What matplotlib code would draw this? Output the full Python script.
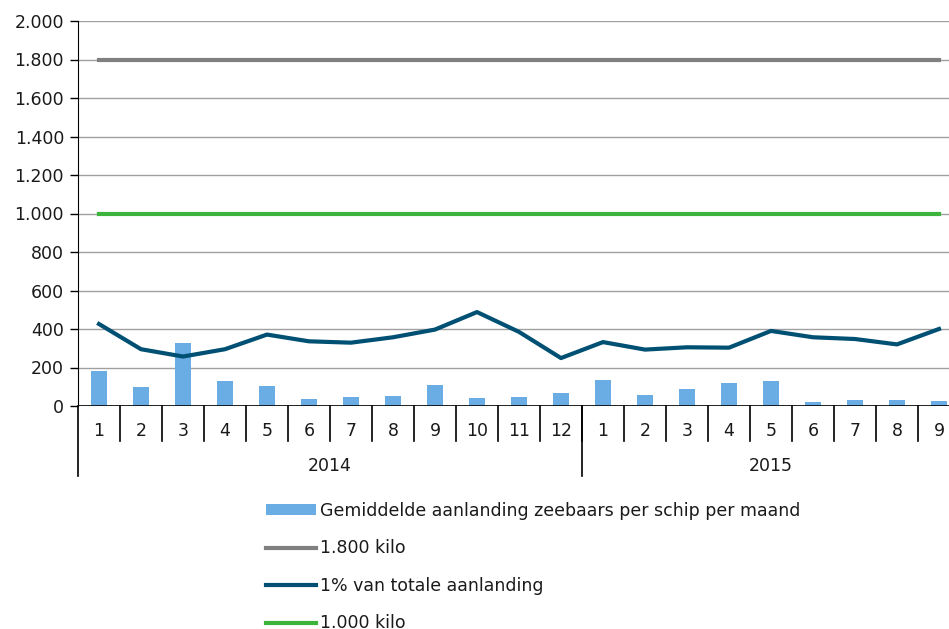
import matplotlib.pyplot as plt
from matplotlib.ticker import FuncFormatter

# Maanden (2014: 1-12, 2015: 1-9)
months = [str(m) for m in range(1, 13)] + [str(m) for m in range(1, 10)]
years = ['2014', '2015']
year_counts = [12, 9]

# Gemiddelde aanlanding zeebaars per schip per maand
landing = [184, 101, 326, 130, 104, 36, 47, 50, 111, 40, 45, 70,
           135, 56, 90, 121, 132, 19, 31, 30, 26]
# 1% van totale aanlanding
one_pct = [426, 295, 257, 295, 371, 336, 329, 357, 397, 488, 385, 249,
           332, 293, 305, 303, 390, 357, 348, 320, 400]
limit_1800 = [1800] * len(months)
limit_1000 = [1000] * len(months)

fig = plt.figure(figsize=(9.49, 6.29), dpi=100)
ax = fig.add_axes([78 / 949, 1 - 406 / 629, 882 / 949, 385 / 629])

x = list(range(len(months)))
bars = ax.bar(x, landing, width=0.4, color='#6aace4', zorder=2,
              label='Gemiddelde aanlanding zeebaars per schip per maand')
l1800, = ax.plot(x, limit_1800, color='#808080', lw=3, zorder=3, label='1.800 kilo')
lpct, = ax.plot(x, one_pct, color='#005073', lw=3, zorder=3, label='1% van totale aanlanding')
l1000, = ax.plot(x, limit_1000, color='#3cb43c', lw=3, zorder=3, label='1.000 kilo')

ax.set_xlim(-0.5, len(months) - 0.5)
ax.set_ylim(0, 2000)
ax.set_yticks(range(0, 2001, 200))
ax.yaxis.set_major_formatter(FuncFormatter(lambda v, p: f'{int(v):,}'.replace(',', '.')))
ax.grid(axis='y', color='#a0a0a0', lw=1, zorder=0)
ax.set_axisbelow(True)
for s in ['top', 'right', 'bottom']:
    ax.spines[s].set_visible(False)
ax.spines['left'].set_color('black')
ax.axhline(0, color='black', lw=1.2, zorder=4)
ax.tick_params(axis='y', length=6, width=1, color='black', labelsize=12.5, pad=4,
               labelcolor='#1a1a1a')
ax.set_xticks([])

# category labels and separators
trans = ax.get_xaxis_transform()
for i, m in enumerate(months):
    ax.text(i, -0.064, m, transform=trans, ha='center', va='center', fontsize=12.5, color='#1a1a1a')
    ax.plot([i + 0.5, i + 0.5], [0, -0.091], transform=trans, color='black', lw=1.2, clip_on=False)
start = 0
bounds = [-0.5]
for y, n in zip(years, year_counts):
    ax.text(start + (n - 1) / 2, -0.155, y, transform=trans, ha='center', va='center',
            fontsize=12.5, color='#1a1a1a')
    start += n
    bounds.append(start - 0.5)
for b in bounds:
    ax.plot([b, b], [0, -0.182], transform=trans, color='black', lw=1.2, clip_on=False)

fig.legend(handles=[bars, l1800, lpct, l1000], loc='upper left',
           bbox_to_anchor=(266 / 949, 1 - 502 / 629), frameon=False,
           fontsize=12.5, handlelength=2.9, handleheight=0.6, handletextpad=0.2,
           labelspacing=1.12, borderpad=0, borderaxespad=0, labelcolor='#1a1a1a')

fig.savefig('out.png', dpi=100)
